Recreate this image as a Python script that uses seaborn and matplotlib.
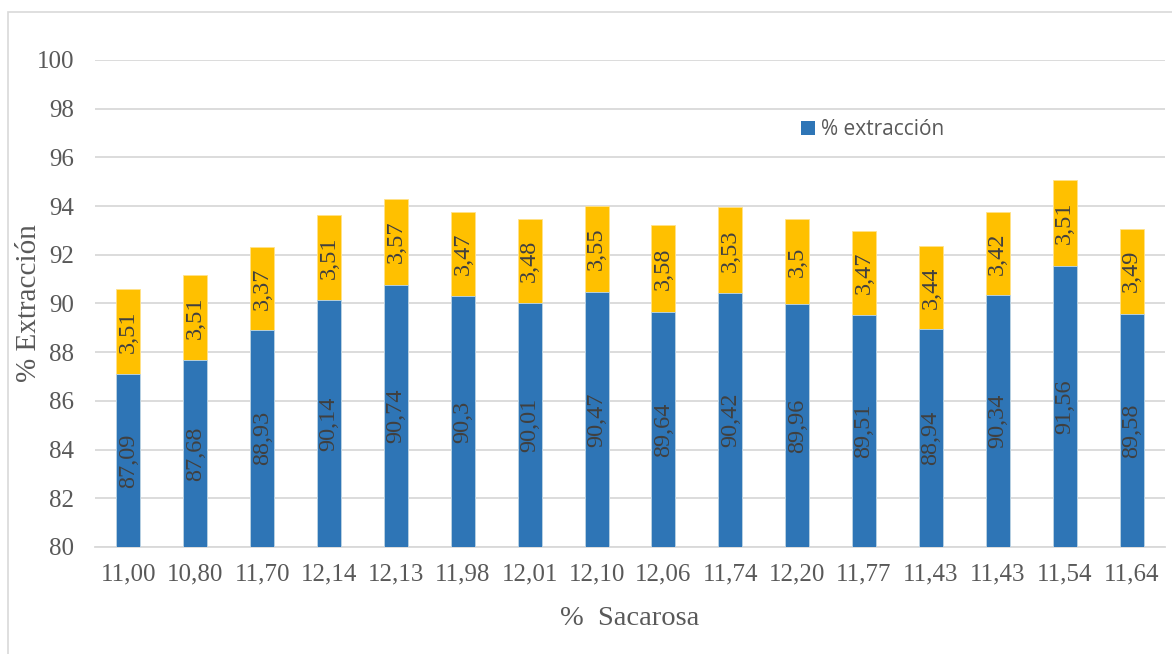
import matplotlib
matplotlib.use("Agg")
import matplotlib.pyplot as plt
import seaborn as sns
import pandas as pd
import numpy as np
from matplotlib.patches import Rectangle

# Sucrose content of each sample (category labels, kept in order)
sacarosa = ["11,00", "10,80", "11,70", "12,14", "12,13", "11,98", "12,01", "12,10",
            "12,06", "11,74", "12,20", "11,77", "11,43", "11,43", "11,54", "11,64"]
# Extraction percentage (lower segment)
extraccion = [87.09, 87.68, 88.93, 90.14, 90.74, 90.30, 90.01, 90.47,
              89.64, 90.42, 89.96, 89.51, 88.94, 90.34, 91.56, 89.58]
# Additional segment stacked on top
adicional = [3.51, 3.51, 3.37, 3.51, 3.57, 3.47, 3.48, 3.55,
             3.58, 3.53, 3.50, 3.47, 3.44, 3.42, 3.51, 3.49]

BLUE = "#2E75B6"
GOLD = "#FFC000"
GRID = "#D9D9D9"
TXT = "#595959"
LBL = "#404040"

df = pd.DataFrame({
    "idx": np.arange(len(sacarosa)),
    "extraccion": extraccion,
    "total": np.array(extraccion) + np.array(adicional),
})

sns.set_theme(style="white")
plt.rcParams["font.family"] = ["Liberation Serif", "DejaVu Serif"]

fig = plt.figure(figsize=(11.72, 6.54), dpi=100)
ax = fig.add_axes([95 / 1172, 107 / 654, 1070 / 1172, 487 / 654])

# outer chart frame
fig.patches.append(Rectangle((8 / 1172, -0.1), 1.2, (654 - 12) / 654 + 0.1,
                             transform=fig.transFigure, fill=False,
                             edgecolor=GRID, linewidth=1.2, zorder=0))

BASE = 80
bw = 0.36
# top segment first (full stack height), blue segment drawn over it
sns.barplot(data=df, x="idx", y="total", color=GOLD, width=bw, saturation=1,
            ax=ax, native_scale=True, edgecolor="#FFE28A", linewidth=0.6, zorder=2)
sns.barplot(data=df, x="idx", y="extraccion", color=BLUE, width=bw, saturation=1,
            ax=ax, native_scale=True, edgecolor="#BDD7EE", linewidth=0.6, zorder=3)


def fmt(v):
    s = f"{v:.2f}".rstrip("0").rstrip(".")
    return s.replace(".", ",")


for i, (e, a) in enumerate(zip(extraccion, adicional)):
    ax.text(i, (BASE + e) / 2, fmt(e), rotation=90, ha="center", va="center",
            fontsize=17.5, color=LBL, zorder=5)
    ax.text(i, e + a / 2, fmt(a), rotation=90, ha="center", va="center",
            fontsize=17.5, color=LBL, zorder=5)

ax.set_ylim(BASE, 100)
ax.set_xlim(-0.5, len(sacarosa) - 0.5)
ax.set_yticks(np.arange(80, 101, 2))
ax.set_xticks(np.arange(len(sacarosa)))
ax.set_xticklabels(sacarosa)
ax.tick_params(axis="both", length=0, labelsize=18, colors=TXT)
ax.tick_params(axis="y", pad=15)
ax.tick_params(axis="x", pad=12)
ax.yaxis.grid(True, color=GRID, linewidth=1.3, zorder=0)
ax.set_axisbelow(True)
for side in ["top", "right", "left"]:
    ax.spines[side].set_visible(False)
ax.spines["bottom"].set_color(GRID)
ax.spines["bottom"].set_linewidth(1.3)

ax.set_xlabel("%  Sacarosa", fontsize=20.5, color=TXT)
ax.set_ylabel("% Extracción", fontsize=21, color=TXT)
ax.yaxis.set_label_coords(-0.0495, 0.5)
ax.xaxis.set_label_coords(0.5, -0.122)

# legend showing only the extraction series
handle = Rectangle((0, 0), 1, 1, facecolor=BLUE, edgecolor="none")
leg = ax.legend([handle], ["% extracción"], loc="center left",
                bbox_to_anchor=(706 / 1070, (547 - 130) / 487), frameon=False,
                handlelength=0.68, handleheight=0.68, handletextpad=0.3,
                borderpad=0, borderaxespad=0,
                prop={"family": "Open Sans", "size": 15})
for t in leg.get_texts():
    t.set_color(TXT)

fig.savefig("out.png", dpi=100)
